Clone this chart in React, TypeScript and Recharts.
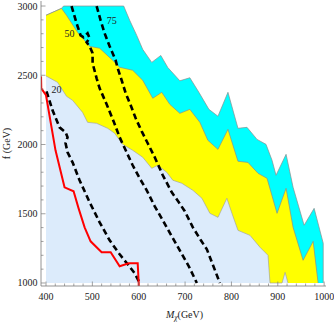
import React from 'react';
import { ComposedChart, Area, Line, XAxis, YAxis, Scatter } from 'recharts';

// Region boundaries (upper edge of each filled region), M_chi in GeV vs f in GeV
const outerBoundary = [
  { m: 400, f: 2933 }, { m: 433.5, f: 2983 }, { m: 437.8, f: 3000 }, { m: 567.6, f: 3000 },
  { m: 580.5, f: 2897 }, { m: 595.7, f: 2788 }, { m: 608.6, f: 2687 }, { m: 628.1, f: 2593 },
  { m: 647.6, f: 2643 }, { m: 662.7, f: 2556 }, { m: 688.7, f: 2460 }, { m: 710.3, f: 2482 },
  { m: 729.8, f: 2377 }, { m: 751.4, f: 2254 }, { m: 770.9, f: 2204 }, { m: 792.5, f: 2377 },
  { m: 814.1, f: 2117 }, { m: 833.6, f: 2124 }, { m: 855.2, f: 2037 }, { m: 874.6, f: 2001 },
  { m: 887.6, f: 1886 }, { m: 896.2, f: 1778 }, { m: 917.9, f: 1929 }, { m: 933.0, f: 1691 },
  { m: 956.8, f: 1417 }, { m: 978.4, f: 1539 }, { m: 998, f: 1287 }, { m: 998, f: 1000 },
];

const yellowBoundary = [
  { m: 400, f: 2933 }, { m: 433.5, f: 2983 }, { m: 444.3, f: 2933 }, { m: 468.1, f: 2810 },
  { m: 494.1, f: 2709 }, { m: 515.7, f: 2695 }, { m: 543.8, f: 2608 }, { m: 558.9, f: 2558 },
  { m: 587.0, f: 2536 }, { m: 608.6, f: 2464 }, { m: 630.3, f: 2334 }, { m: 649.7, f: 2377 },
  { m: 667.1, f: 2290 }, { m: 688.7, f: 2225 }, { m: 710.3, f: 2254 }, { m: 731.9, f: 2160 },
  { m: 749.2, f: 2030 }, { m: 770.9, f: 1965 }, { m: 792.5, f: 2110 }, { m: 814.1, f: 1879 },
  { m: 835.7, f: 1871 }, { m: 857.4, f: 1792 }, { m: 876.8, f: 1756 }, { m: 898.4, f: 1503 },
  { m: 917.9, f: 1684 }, { m: 933.0, f: 1402 }, { m: 954.6, f: 1164 }, { m: 976.3, f: 1301 },
  { m: 987, f: 1000 },
];

const lightBoundary = [
  { m: 400, f: 2495 }, { m: 424.9, f: 2449 }, { m: 444.3, f: 2348 }, { m: 457.3, f: 2319 },
  { m: 478.9, f: 2232 }, { m: 489.7, f: 2160 }, { m: 509.2, f: 2153 }, { m: 533.0, f: 2117 },
  { m: 548.1, f: 2081 }, { m: 565.4, f: 2001 }, { m: 587.0, f: 1958 }, { m: 608.6, f: 1908 },
  { m: 628.1, f: 1828 }, { m: 641.1, f: 1850 }, { m: 660.5, f: 1799 }, { m: 673.5, f: 1742 },
  { m: 693.0, f: 1720 }, { m: 716.8, f: 1669 }, { m: 736.3, f: 1612 }, { m: 753.5, f: 1503 },
  { m: 771.0, f: 1474 }, { m: 790.2, f: 1612 }, { m: 801.1, f: 1503 }, { m: 814.1, f: 1380 },
  { m: 840.0, f: 1344 }, { m: 861.6, f: 1258 }, { m: 878.9, f: 1200 }, { m: 883.2, f: 1000 },
  { m: 909.2, f: 1000 }, { m: 915.7, f: 1077 }, { m: 922, f: 1000 },
];

// Dashed contours
const contour20 = [
  { m: 401.1, f: 2384 }, { m: 414.1, f: 2247 }, { m: 429.2, f: 2124 }, { m: 442.2, f: 2088 },
  { m: 446.5, f: 2052 }, { m: 442.2, f: 2009 }, { m: 446.5, f: 1944 }, { m: 457.3, f: 1871 },
  { m: 472.4, f: 1742 }, { m: 494.1, f: 1583 }, { m: 515.7, f: 1438 }, { m: 537.3, f: 1308 },
  { m: 558.9, f: 1207 }, { m: 576.2, f: 1135 }, { m: 591.3, f: 1070 }, { m: 602.1, f: 1000 },
];

const contour50 = [
  { m: 455.1, f: 3000 }, { m: 466.0, f: 2875 }, { m: 474.6, f: 2788 }, { m: 481.1, f: 2774 },
  { m: 489.7, f: 2803 }, { m: 494.1, f: 2767 }, { m: 487.6, f: 2738 }, { m: 494.1, f: 2709 },
  { m: 500.5, f: 2659 }, { m: 500.5, f: 2587 }, { m: 509.2, f: 2478 }, { m: 515.7, f: 2406 },
  { m: 530.8, f: 2290 }, { m: 545.9, f: 2167 }, { m: 558.9, f: 2052 }, { m: 571.9, f: 1958 },
  { m: 587.0, f: 1850 }, { m: 602.1, f: 1756 }, { m: 617.3, f: 1669 }, { m: 634.6, f: 1554 },
  { m: 651.9, f: 1453 }, { m: 671.3, f: 1337 }, { m: 690.8, f: 1222 }, { m: 708.1, f: 1120 },
  { m: 725.4, f: 1000 },
];

const contour75 = [
  { m: 509.2, f: 3000 }, { m: 517.8, f: 2897 }, { m: 526.5, f: 2803 }, { m: 537.3, f: 2709 },
  { m: 550.3, f: 2608 }, { m: 554.6, f: 2551 }, { m: 563.2, f: 2464 }, { m: 571.9, f: 2370 },
  { m: 582.7, f: 2283 }, { m: 593.5, f: 2189 }, { m: 606.5, f: 2095 }, { m: 619.4, f: 2009 },
  { m: 634.6, f: 1908 }, { m: 651.9, f: 1778 }, { m: 671.3, f: 1655 }, { m: 686.5, f: 1583 },
  { m: 699.4, f: 1518 }, { m: 716.8, f: 1402 }, { m: 734.1, f: 1308 }, { m: 747.0, f: 1243 },
  { m: 757.9, f: 1149 }, { m: 775.1, f: 1000 },
];

const redCurve = [
  { m: 389.3, f: 2492 }, { m: 389.8, f: 2406 }, { m: 400, f: 2356 }, { m: 420.5, f: 1958 },
  { m: 440.0, f: 1691 }, { m: 459.5, f: 1662 }, { m: 470.3, f: 1539 }, { m: 483.3, f: 1402 },
  { m: 496.2, f: 1301 }, { m: 520.0, f: 1222 }, { m: 539.5, f: 1222 }, { m: 558.9, f: 1121 },
  { m: 578.4, f: 1142 }, { m: 597.8, f: 1142 }, { m: 600, f: 998 }, { m: 600, f: 978 },
];

const contourLabels = [
  { m: 422.7, f: 2398, text: '20' },
  { m: 450.8, f: 2802, text: '50' },
  { m: 541.6, f: 2897, text: '75' },
];

const xMajor = [400, 500, 600, 700, 800, 900, 1000];
const xTicks = [
  400, 420, 440, 460, 480, 500, 520, 540, 560, 580, 600, 620, 640, 660, 680, 700,
  720, 740, 760, 780, 800, 820, 840, 860, 880, 900, 920, 940, 960, 980, 1000,
];
const yMajor = [1000, 1500, 2000, 2500, 3000];
const yTicks = [
  1000, 1100, 1200, 1300, 1400, 1500, 1600, 1700, 1800, 1900, 2000,
  2100, 2200, 2300, 2400, 2500, 2600, 2700, 2800, 2900, 3000,
];

const X_DOMAIN = [389.2, 1004];
const Y_DOMAIN = [978.3, 3036.3];
const FRAME = '#7a7a7a';
const SERIF = '"Liberation Serif", "DejaVu Serif", serif';
const LABEL_COLOR = '#222';

const BottomTick = (p: any) => {
  const v = p.payload.value;
  const major = xMajor.includes(v);
  return (
    <g>
      <line x1={p.x} x2={p.x} y1={p.y} y2={p.y - (major ? 4.5 : 2.5)} stroke={FRAME} strokeWidth={0.7} />
      {major && (
        <text x={p.x} y={p.y + 14} textAnchor="middle" fontFamily={SERIF} fontSize={10} fill={LABEL_COLOR}>
          {v}
        </text>
      )}
    </g>
  );
};

const TopTick = (p: any) => {
  const v = p.payload.value;
  const major = xMajor.includes(v);
  return <line x1={p.x} x2={p.x} y1={p.y} y2={p.y + (major ? 4.5 : 2.5)} stroke={FRAME} strokeWidth={0.7} />;
};

const LeftTick = (p: any) => {
  const v = p.payload.value;
  const major = yMajor.includes(v);
  return (
    <g>
      <line x1={p.x} x2={p.x + (major ? 4.5 : 2.5)} y1={p.y} y2={p.y} stroke={FRAME} strokeWidth={0.7} />
      {major && (
        <text x={p.x - 3.5} y={p.y + 3.5} textAnchor="end" fontFamily={SERIF} fontSize={10} fill={LABEL_COLOR}>
          {v}
        </text>
      )}
    </g>
  );
};

const RightTick = (p: any) => {
  const v = p.payload.value;
  const major = yMajor.includes(v);
  return <line x1={p.x} x2={p.x - (major ? 4.5 : 2.5)} y1={p.y} y2={p.y} stroke={FRAME} strokeWidth={0.7} />;
};

const XTitle = (p: any) => {
  const vb = p.viewBox;
  return (
    <text x={vb.x + vb.width / 2 + 1} y={vb.y + 31.5} textAnchor="middle" fontFamily={SERIF} fontSize={10} fill={LABEL_COLOR}>
      <tspan fontStyle="italic">M</tspan>
      <tspan dy={2.5} fontSize={7.5} fontStyle="italic">χ</tspan>
      <tspan dy={-2.5}>(GeV)</tspan>
    </text>
  );
};

const YTitle = (p: any) => {
  const vb = p.viewBox;
  const cx = 6;
  const cy = vb.y + vb.height / 2;
  return (
    <text x={cx} y={cy} transform={`rotate(-90 ${cx} ${cy})`} textAnchor="middle" dominantBaseline="central"
      fontFamily={SERIF} fontSize={10} fill={LABEL_COLOR}>
      f (GeV)
    </text>
  );
};

const ContourText = (p: any) => (
  <text x={p.cx} y={p.cy} textAnchor="middle" dominantBaseline="central" fontFamily={SERIF} fontSize={10} fill="#222">
    {p.payload.text}
  </text>
);

const DASH = '6 3.5';

export default function App() {
  return (
    <div style={{ position: 'absolute', left: 0, top: 0 }}>
      <ComposedChart width={334} height={323} margin={{ top: 1, right: 8, left: 0, bottom: 0 }}>
        <XAxis
          dataKey="m" type="number" domain={X_DOMAIN} allowDataOverflow ticks={xTicks} interval={0}
          height={37} tickSize={0} tickMargin={0} tickLine={false} tick={BottomTick}
          axisLine={{ stroke: FRAME, strokeWidth: 0.8 }} label={{ content: XTitle }}
        />
        <XAxis
          xAxisId="top" orientation="top" dataKey="m" type="number" domain={X_DOMAIN} allowDataOverflow
          ticks={xTicks} interval={0} height={0} tickSize={0} tickMargin={0} tickLine={false} tick={TopTick}
          axisLine={{ stroke: FRAME, strokeWidth: 0.8 }}
        />
        <YAxis
          dataKey="f" type="number" domain={Y_DOMAIN} allowDataOverflow ticks={yTicks} interval={0}
          width={41} tickSize={0} tickMargin={0} tickLine={false} tick={LeftTick}
          axisLine={{ stroke: FRAME, strokeWidth: 0.8 }} label={{ content: YTitle }}
        />
        <YAxis
          yAxisId="right" orientation="right" dataKey="f" type="number" domain={Y_DOMAIN} allowDataOverflow
          ticks={yTicks} interval={0} width={0} tickSize={0} tickMargin={0} tickLine={false} tick={RightTick}
          axisLine={{ stroke: FRAME, strokeWidth: 0.8 }}
        />
        <Area data={outerBoundary} dataKey="f" type="linear" baseValue={1000} fill="#00ffff" fillOpacity={1}
          stroke="#8c8c8c" strokeWidth={0.7} isAnimationActive={false} />
        <Area data={yellowBoundary} dataKey="f" type="linear" baseValue={1000} fill="#ffff00" fillOpacity={1}
          stroke="#8c8c8c" strokeWidth={0.7} isAnimationActive={false} />
        <Area data={lightBoundary} dataKey="f" type="linear" baseValue={1000} fill="#dcebfb" fillOpacity={1}
          stroke="#9a9a9a" strokeWidth={0.6} isAnimationActive={false} />
        <Line data={contour20} dataKey="f" type="linear" stroke="#000" strokeWidth={2.6} strokeDasharray={DASH}
          dot={false} isAnimationActive={false} />
        <Line data={contour50} dataKey="f" type="linear" stroke="#000" strokeWidth={2.6} strokeDasharray={DASH}
          dot={false} isAnimationActive={false} />
        <Line data={contour75} dataKey="f" type="linear" stroke="#000" strokeWidth={2.6} strokeDasharray={DASH}
          dot={false} isAnimationActive={false} />
        <Line data={redCurve} dataKey="f" type="linear" stroke="#ff0000" strokeWidth={2} dot={false}
          isAnimationActive={false} />
        <Scatter data={contourLabels} dataKey="f" shape={ContourText} isAnimationActive={false} />
      </ComposedChart>
    </div>
  );
}
